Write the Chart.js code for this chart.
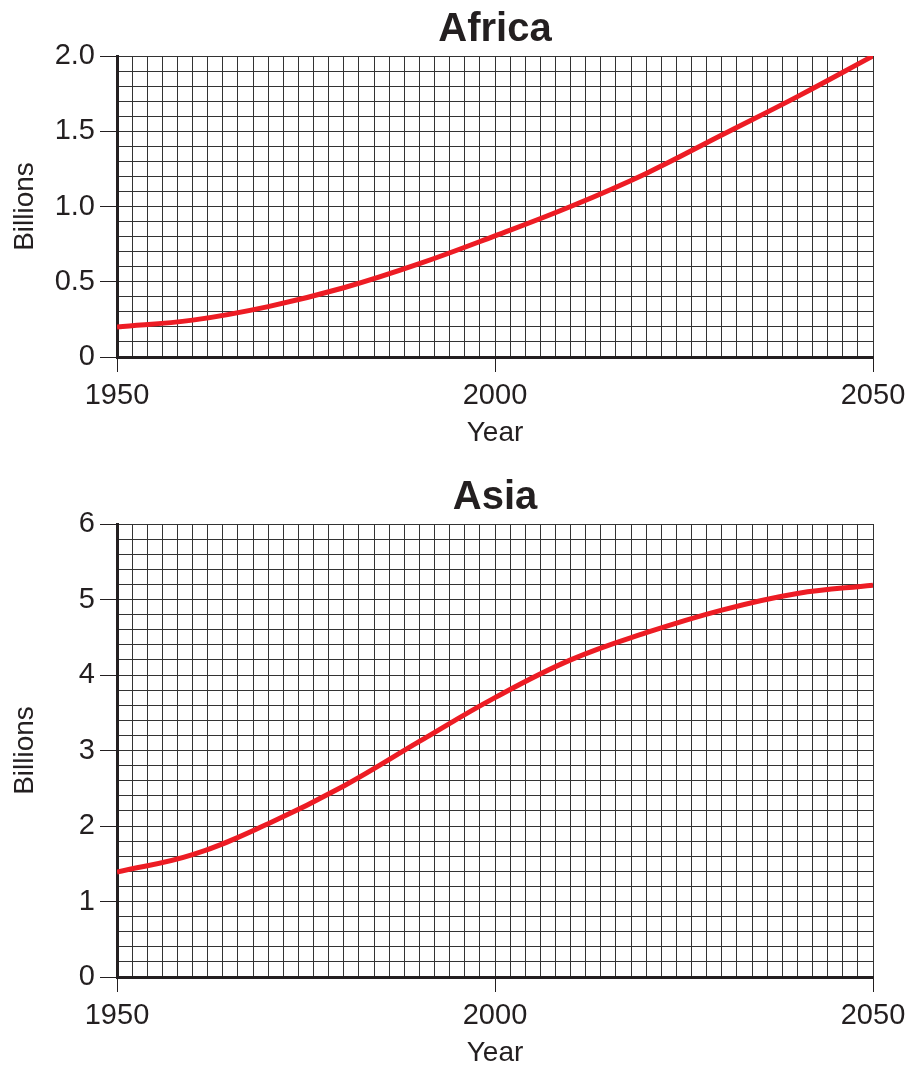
<!DOCTYPE html>
<html>
<head>
<meta charset="utf-8">
<script src="https://cdn.jsdelivr.net/npm/chart.js@4"></script>
<style>
  html, body { margin: 0; padding: 0; background: #fff; overflow: hidden; width: 909px; height: 1065px; }
  .box { position: absolute; left: 0; width: 909px; }
</style>
</head>
<body>
<div class="box" style="top:0px;height:460px;"><canvas id="c1"></canvas></div>
<div class="box" style="top:468px;height:612px;"><canvas id="c2"></canvas></div>
<script>
// ---- data ----
const years = [1950, 1960, 1970, 1980, 1990, 2000, 2010, 2020, 2030, 2040, 2050];
const africaValues = [0.2, 0.245, 0.335, 0.46, 0.62, 0.805, 1.0, 1.22, 1.475, 1.73, 2.0];
const asiaValues = [1.39, 1.62, 2.03, 2.53, 3.12, 3.70, 4.20, 4.56, 4.86, 5.08, 5.19];
const yearTickLabels = [1950, 2000, 2050];
const africaTickLabels = [0, 0.5, 1.0, 1.5, 2.0];
const asiaTickLabels = [0, 1, 2, 3, 4, 5, 6];
const chartTitles = ['Africa', 'Asia'];
const xTitle = 'Year';
const yTitle = 'Billions';

const FONT = "'Liberation Sans', Arial, Helvetica, sans-serif";
const RED = '#ed1c24';
const GRID = '#333333';
const INK = '#231f20';

function near(v, list) { return list.some(t => Math.abs(t - v) < 1e-6); }

function makeChart(id, title, values, yMax, yStep, yLabels, yFmt, axisHeight) {
  const pts = years.map((y, i) => ({ x: y, y: values[i] }));
  return new Chart(document.getElementById(id), {
    type: 'line',
    data: { datasets: [{ data: pts, borderColor: RED, borderWidth: 5, pointRadius: 0,
      tension: 0.4, fill: false }] },
    options: {
      responsive: true, maintainAspectRatio: false, animation: false,
      devicePixelRatio: 1,
      layout: { padding: { left: 0, right: 36, top: 0, bottom: 0 } },
      plugins: {
        legend: { display: false }, tooltip: { enabled: false },
        title: { display: true, fullSize: false, text: title, color: INK,
          font: { family: FONT, size: 40, weight: 'bold' }, padding: { top: 6, bottom: 2 } }
      },
      scales: {
        x: {
          type: 'linear', min: 1950, max: 2050,
          afterFit: s => { s.height = axisHeight; s.paddingLeft = 0; s.paddingRight = 0; },
          ticks: { stepSize: 2, autoSkip: false, maxRotation: 0, color: INK, padding: 7,
            font: { family: FONT, size: 29 },
            callback: v => near(v, yearTickLabels) ? String(v) : '' },
          grid: { color: GRID, lineWidth: 1, tickLength: 15, tickWidth: 1,
            tickColor: c => (c.tick && near(c.tick.value, yearTickLabels)) ? INK : 'rgba(0,0,0,0)' },
          border: { color: INK, width: 3 },
          title: { display: true, text: xTitle, color: INK, font: { family: FONT, size: 28 },
            padding: { top: 0, bottom: 10 } }
        },
        y: {
          min: 0, max: yMax,
          afterFit: s => { s.width = 117; },
          ticks: { stepSize: yStep, autoSkip: false, color: INK, padding: 5,
            font: { family: FONT, size: 29 },
            callback: v => near(v, yLabels) ? yFmt(v) : '' },
          grid: { color: GRID, lineWidth: 1, tickLength: 17, tickWidth: 1,
            tickColor: c => (c.tick && near(c.tick.value, yLabels)) ? INK : 'rgba(0,0,0,0)' },
          border: { color: INK, width: 3 },
          title: { display: true, text: yTitle, color: INK, font: { family: FONT, size: 28 },
            padding: { top: 8, bottom: 0 } }
        }
      }
    }
  });
}

makeChart('c1', chartTitles[0], africaValues, 2, 0.1, africaTickLabels,
  v => v === 0 ? '0' : v.toFixed(1), 103);
makeChart('c2', chartTitles[1], asiaValues, 6, 0.2, asiaTickLabels,
  v => String(Math.round(v)), 103);
</script>
</body>
</html>
